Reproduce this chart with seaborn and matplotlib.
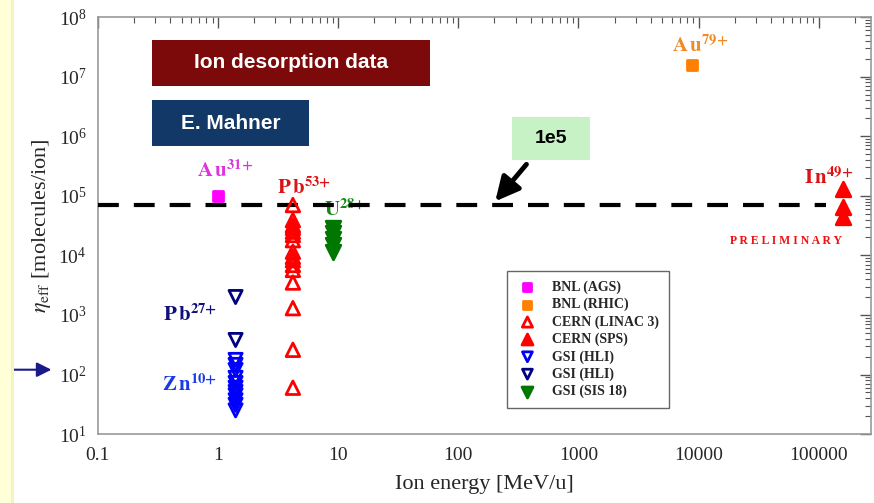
import numpy as np
import pandas as pd
import seaborn as sns
import matplotlib.pyplot as plt
from matplotlib.patches import Rectangle
from matplotlib.ticker import FuncFormatter, LogLocator

# ---- data ----
bnl_ags_x = [1.0]
bnl_ags_y = [1.0e5]

bnl_rhic_x = [8800]
bnl_rhic_y = [1.6e7]

linac3_x = [4.2] * 16
linac3_y = [7.0e4, 3.9e4, 3.2e4, 2.9e4, 2.5e4, 2.2e4, 1.8e4, 1.15e4,
            9.4e3, 8.3e3, 6.9e3, 5.7e3, 3.5e3, 1.3e3, 2.6e2, 60]

sps_x = [158000] * 3
sps_y = [1.3e5, 6.4e4, 4.4e4]

hli_zn_x = [1.4] * 11
hli_zn_y = [176, 145, 119, 88, 72, 60, 51, 45, 37, 31, 25]

hli_pb_x = [1.4] * 2
hli_pb_y = [2.0e3, 3.8e2]

sis18_x = [9.0] * 5
sis18_y = [2.9e4, 2.4e4, 1.9e4, 1.5e4, 1.15e4]

line_x = [0.1, 1.15e5]
line_y = [7.0e4, 7.0e4]

sns.set_theme(style="white")
plt.rcParams['font.family'] = ['Liberation Serif', 'DejaVu Serif']
plt.rcParams['mathtext.fontset'] = 'stix'

fig = plt.figure(figsize=(8.74, 5.03), dpi=100)
ax = fig.add_axes([0.112, 0.137, 0.884, 0.829])

# series: (x, y, marker, face, edge, size, label)
series = [
    (bnl_ags_x, bnl_ags_y, "s", "#ff00ff", "#ff00ff", 55, "BNL (AGS)"),
    (bnl_rhic_x, bnl_rhic_y, "s", "#ff8000", "#ff8000", 55, "BNL (RHIC)"),
    (linac3_x, linac3_y, "^", "none", "#ff0000", 95, "CERN (LINAC 3)"),
    (sps_x, sps_y, "^", "#ff0000", "#ff0000", 110, "CERN (SPS)"),
    (hli_zn_x, hli_zn_y, "v", "none", "#0000ff", 90, "GSI (HLI)"),
    (hli_pb_x, hli_pb_y, "v", "none", "#000080", 90, "GSI (HLI)"),
    (sis18_x, sis18_y, "v", "#007700", "#007700", 110, "GSI (SIS 18)"),
]
for x, y, m, fc, ec, s, lab in series:
    df = pd.DataFrame({"energy": x, "eta": y})
    sns.scatterplot(data=df, x="energy", y="eta", marker=m, s=s, color=ec,
                    facecolor=fc, edgecolor=ec, linewidth=2, label=lab,
                    ax=ax, zorder=4)

ax.plot(line_x, line_y, color="black", lw=3, linestyle=(0, (5, 3.6)), zorder=3)

ax.set_xscale("log")
ax.set_yscale("log")
ax.set_xlim(0.1, 2.7e5)
ax.set_ylim(10, 1e8)

ax.xaxis.set_major_formatter(FuncFormatter(lambda v, _: f"{v:.10g}"))
ax.xaxis.set_minor_locator(LogLocator(subs=np.arange(2, 10), numticks=20))
ax.yaxis.set_minor_locator(LogLocator(subs=np.arange(2, 10), numticks=20))
ax.tick_params(which="both", direction="in", top=True, right=True,
               color="#555555", labelsize=14)
ax.tick_params(which="major", length=8, width=1)
ax.tick_params(which="minor", length=4, width=0.8)
ax.tick_params(axis="x", pad=9)
ax.tick_params(axis="y", pad=8)
for sp in ax.spines.values():
    sp.set_color("#999999")
    sp.set_linewidth(1.2)

ax.set_xlabel("Ion energy [MeV/u]", fontsize=16, labelpad=8)
ax.set_ylabel(r"$\eta_{\rm eff}$ [molecules/ion]", fontsize=16, labelpad=4)

# ion labels
labels = [
    (0.165, 0.630, r"$\mathbf{A\,u}^{\mathbf{31{+}}}$", "#dd33dd"),
    (0.780, 0.930, r"$\mathbf{A\,u}^{\mathbf{79{+}}}$", "#f08a24"),
    (0.267, 0.590, r"$\mathbf{P\,b}^{\mathbf{53{+}}}$", "#dd1111"),
    (0.320, 0.537, r"$\mathbf{U}^{\mathbf{28{+}}}$", "#118811"),
    (0.946, 0.614, r"$\mathbf{I\,n}^{\mathbf{49{+}}}$", "#dd1111"),
    (0.119, 0.285, r"$\mathbf{P\,b}^{\mathbf{27{+}}}$", "#10107a"),
    (0.119, 0.117, r"$\mathbf{Z\,n}^{\mathbf{10{+}}}$", "#1a3ae8"),
]
for fx, fy, txt, col in labels:
    ax.text(fx, fy, txt, transform=ax.transAxes, color=col, fontsize=15,
            ha="center", va="center", zorder=2)
ax.text(0.890, 0.463, "P R E L I M I N A R Y", transform=ax.transAxes,
        color="#ee1111", fontsize=8.5, fontweight="bold", ha="center",
        va="center")

# boxes
boxes = [
    (0.070, 0.835, 0.360, 0.110, "#7d0a0a", "Ion desorption data", "white", 15),
    (0.070, 0.691, 0.203, 0.110, "#113866", "E. Mahner", "white", 15),
    (0.536, 0.657, 0.101, 0.103, "#c6f2c6", "1e5", "black", 14),
]
for x0, y0, w, h, fc, txt, tc, fs in boxes:
    ax.add_patch(Rectangle((x0, y0), w, h, transform=ax.transAxes,
                           facecolor=fc, edgecolor="none", zorder=5))
    ax.text(x0 + w / 2, y0 + h / 2, txt, transform=ax.transAxes, color=tc,
            fontsize=fs, fontweight="bold", family=["Liberation Sans", "DejaVu Sans"],
            ha="center", va="center", zorder=6)

ax.annotate("", xy=(0.512, 0.553), xytext=(0.557, 0.652),
            xycoords="axes fraction",
            arrowprops=dict(arrowstyle="-|>", lw=3.5, color="black",
                            mutation_scale=36), zorder=6)

leg = ax.legend(loc="upper left", bbox_to_anchor=(0.520, 0.408),
                fontsize=10, frameon=True, fancybox=False, framealpha=1,
                edgecolor="#666666", markerscale=0.75, handletextpad=1.0,
                labelspacing=0.28, borderpad=0.7, handlelength=1.6)
leg.get_frame().set_linewidth(1)
for t in leg.get_texts():
    t.set_fontweight("bold")

# pale yellow strip and blue arrow at the left edge of the slide
fig.patches.append(Rectangle((0, 0), 0.013, 1, transform=fig.transFigure,
                             facecolor="#ffffd8", edgecolor="none", zorder=0))
fig.patches.append(Rectangle((0.013, 0), 0.003, 1, transform=fig.transFigure,
                             facecolor="#f4f4c0", edgecolor="none", zorder=0))
ax.annotate("", xy=(0.062, 0.265), xytext=(0.0, 0.265),
            xycoords="figure fraction",
            arrowprops=dict(arrowstyle="-|>", lw=1.5, color="#1a1a8a",
                            mutation_scale=22))

fig.savefig("out.png", dpi=100)
